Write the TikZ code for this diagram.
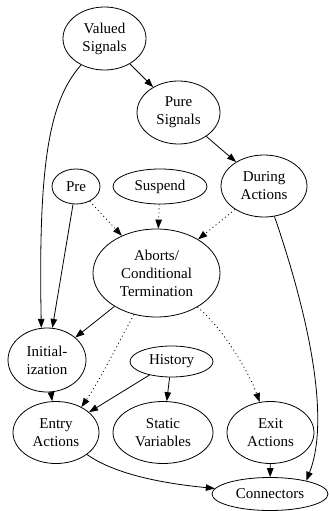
\documentclass[tikz,border=0pt]{standalone}
\usepackage{fontspec}
\setmainfont{Liberation Serif}
\newfontfamily\statefont{Liberation Serif}
\usetikzlibrary{shapes.geometric,arrows.meta}
\begin{document}
\begin{tikzpicture}[x=1pt,y=-1pt,
  st/.style={ellipse,draw,line width=0.8pt,inner sep=0pt,align=center,
             font=\statefont\fontsize{15}{18}\selectfont},
  edge/.style={line width=0.8pt,-{Triangle[length=9pt,width=6.5pt]}},
  dotedge/.style={edge,dash pattern=on 1pt off 3pt}]
\useasboundingbox (0,0) rectangle (329,511);

% states
\node[st,minimum width=83pt,minimum height=63pt] (val) at (104.5,38.5) {Valued\\Signals};
\node[st,minimum width=83pt,minimum height=63pt] (pure) at (178.5,112.5) {Pure\\Signals};
\node[st,minimum width=86pt,minimum height=62pt] (dur) at (264,186) {During\\Actions};
\node[st,minimum width=48pt,minimum height=35pt] (pre) at (76,186.5) {Pre};
\node[st,minimum width=94pt,minimum height=35pt] (sus) at (160,186.5) {Suspend};
\node[st,minimum width=127pt,minimum height=88pt] (ab) at (156.5,273) {Aborts/\\Conditional\\Termination};
\node[st,minimum width=78pt,minimum height=64pt] (init) at (47,360) {Initial-\\ization};
\node[st,minimum width=83pt,minimum height=31pt] (hist) at (171.5,361.5) {History};
\node[st,minimum width=86pt,minimum height=62pt] (entry) at (56,432.5) {Entry\\Actions};
\node[st,minimum width=100pt,minimum height=62pt] (static) at (163,432.5) {Static\\Variables};
\node[st,minimum width=87pt,minimum height=62pt] (exit) at (270.5,432.5) {Exit\\Actions};
\node[st,minimum width=116pt,minimum height=33pt] (conn) at (270,494) {Connectors};

% dependencies
\draw[edge] (val) -- (pure);
\draw[edge] (val) .. controls (50,100) and (38,160) .. (init.100);
\draw[edge] (pure) -- (dur);
\draw[edge] (pre) -- (init);
\draw[dotedge] (pre) -- (ab);
\draw[dotedge] (sus) -- (ab);
\draw[dotedge] (dur) -- (ab);
\draw[edge] (dur) .. controls (310,320) and (330,420) .. (conn.20);
\draw[edge] (ab) -- (init);
\draw[dotedge] (ab) .. controls (120,340) and (100,380) .. (entry.45);
\draw[dotedge] (ab) .. controls (225,330) and (250,375) .. (exit);
\draw[edge] (init) -- (entry);
\draw[edge] (hist) -- (entry);
\draw[edge] (hist) -- (static);
\draw[edge] (entry) .. controls (120,478) and (180,485) .. (conn);
\draw[edge] (exit) -- (conn);
\end{tikzpicture}
\end{document}
